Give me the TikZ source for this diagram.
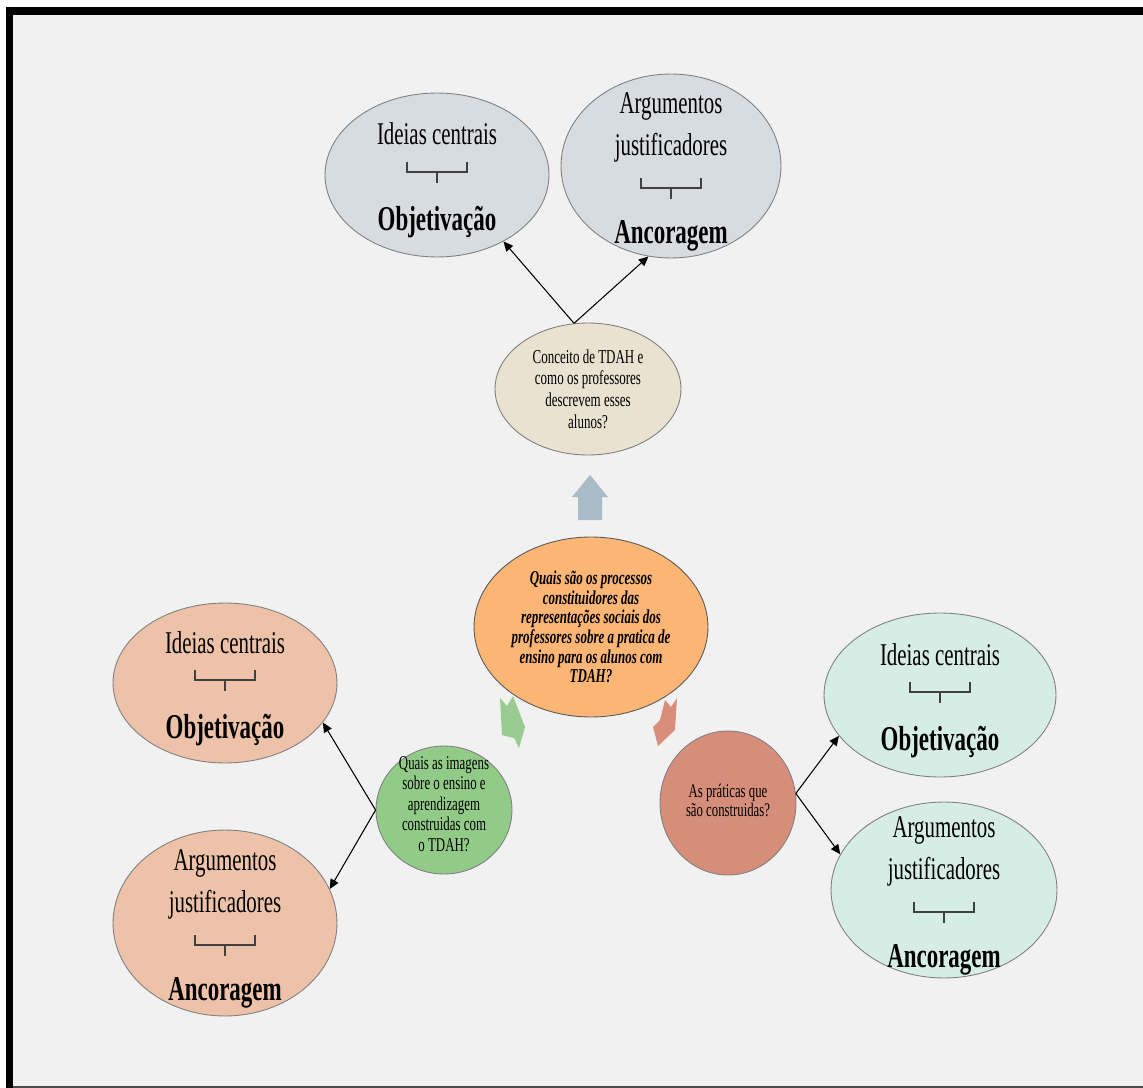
\documentclass[tikz,border=0pt]{standalone}
\usepackage{fontspec}
\setmainfont{Liberation Serif}[FakeStretch=0.66]
\usetikzlibrary{shapes.geometric,arrows.meta,calc}
\definecolor{fundo}{HTML}{F1F1F1}
\definecolor{cinza}{HTML}{D6DCE0}
\definecolor{bege}{HTML}{E9E2D0}
\definecolor{laranja}{HTML}{FBB575}
\definecolor{verde}{HTML}{92CB88}
\definecolor{vermelho}{HTML}{D68E7B}
\definecolor{rosa}{HTML}{EDC2A8}
\definecolor{agua}{HTML}{D6EDE6}
\definecolor{setaAzul}{HTML}{A9BCC8}
\definecolor{setaVerde}{HTML}{98CC90}
\definecolor{setaVermelha}{HTML}{D98E7C}
% bracket under a text line: node, vertical offset
\newcommand{\chave}[2]{%
  \draw[chaveline] ($(#1)+(-30,#2-10)$) -- ++(0,10) -- ++(60,0) -- ++(0,-10);
  \draw[chaveline] ($(#1)+(0,#2)$) -- ++(0,11);}
\begin{document}
\begin{tikzpicture}[x=0.02cm, y=-0.02cm,
    forma/.style={ellipse, draw=black!50, line width=0.5pt, inner sep=0pt},
    bigtxt/.style={font=\fontsize{18}{21}\selectfont, anchor=base, inner sep=0pt},
    bigbold/.style={bigtxt, font=\fontsize{19.8}{22}\selectfont\bfseries},
    smalltxt/.style={font=\fontsize{11.2}{12.4}\selectfont, align=center, inner sep=0pt},
    seta/.style={-{Triangle[length=5.5pt,width=5pt]}, line width=0.6pt},
    chaveline/.style={line width=0.6pt, black!75}]
    % Draw frame and background
    \fill[white] (0,0) rectangle (1143,1088);
    \fill[fundo] (13,15) rectangle (1143,1088);
    \fill[black] (6,7) rectangle (1143,15);
    \fill[black] (6,7) rectangle (13,1088);
    \fill[black!70] (13,1086) rectangle (1143,1088);
    % Draw ellipses
    \node[forma, fill=cinza, minimum width=4.48cm, minimum height=3.28cm] (gL) at (437,175) {};
    \node[forma, fill=cinza, minimum width=4.4cm, minimum height=3.68cm] (gR) at (671,166) {};
    \node[forma, fill=bege, minimum width=3.72cm, minimum height=2.64cm] (beige) at (588,389) {};
    \node[forma, fill=laranja, draw=black!65, minimum width=4.68cm, minimum height=3.6cm] (orange) at (591,627) {};
    \node[forma, fill=verde, minimum width=2.72cm, minimum height=2.56cm] (green) at (444,810) {};
    \node[forma, fill=vermelho, minimum width=2.72cm, minimum height=2.88cm] (red) at (728,803) {};
    \node[forma, fill=rosa, minimum width=4.48cm, minimum height=3.2cm] (pinkA) at (225,683) {};
    \node[forma, fill=rosa, minimum width=4.48cm, minimum height=3.72cm] (pinkB) at (225,923) {};
    \node[forma, fill=agua, minimum width=4.64cm, minimum height=3.28cm] (tealA) at (940,695) {};
    \node[forma, fill=agua, minimum width=4.52cm, minimum height=3.52cm] (tealB) at (944,890) {};
    % Texts of the small shapes
    \node[smalltxt] (beigeTxt) at (beige) {Conceito de TDAH e\\como os professores\\descrevem esses\\alunos?};
    \node[smalltxt, font=\fontsize{11.2}{11.2}\selectfont\bfseries\itshape] (orangeTxt) at (orange)
        {Quais são os processos\\constituidores das\\representações sociais dos\\professores sobre a pratica de\\ensino para os alunos com\\TDAH?};
    \node[smalltxt, font=\fontsize{11.1}{11.6}\selectfont] (greenTxt) at ($(green)+(0,-6)$)
        {Quais as imagens\\sobre o ensino e\\aprendizagem\\construidas com\\o TDAH?};
    \node[smalltxt, font=\fontsize{11}{10.8}\selectfont] (redTxt) at ($(red)+(0,-3)$) {As práticas que\\são construidas?};
    % Ideias centrais / Objetivacao
    \foreach \e in {gL,pinkA,tealA} {
        \node[bigtxt] (\e Top) at ($(\e)+(0,-30)$) {Ideias centrais};
        \chave{\e}{-3}
        \node[bigbold] (\e Bot) at ($(\e)+(0,55)$) {Objetivação};
    }
    % Argumentos justificadores / Ancoragem
    \foreach \e in {gR,pinkB,tealB} {
        \node[bigtxt] (\e Top) at ($(\e)+(0,-53)$) {Argumentos};
        \node[bigtxt] (\e Mid) at ($(\e)+(0,-11)$) {justificadores};
        \chave{\e}{22}
        \node[bigbold] (\e Bot) at ($(\e)+(0,77)$) {Ancoragem};
    }
    % Block arrows
    \fill[setaAzul] (590,475) -- (608,497) -- (602,497) -- (602,520) -- (578,520) -- (578,497) -- (572,497) -- cycle;
    \fill[setaVerde] (500,698) -- (507,706) -- (513,696) -- (525,727) -- (519,748) -- (514,738) -- (502,735) -- cycle;
    \fill[setaVermelha] (665,700) -- (671,707) -- (677,698) -- (675,730) -- (658,746) -- (653,727) -- (660,720) -- cycle;
    % Connectors
    \draw[seta] (beige.102) -- (gL.-45);
    \draw[seta] (beige.102) -- (gR.-104);
    \draw[seta] (green.west) -- (pinkA.-22);
    \draw[seta] (green.west) -- (pinkB.18);
    \draw[seta] (red.8) -- (tealA.202);
    \draw[seta] (red.8) -- (tealB.161);
\end{tikzpicture}
\end{document}
